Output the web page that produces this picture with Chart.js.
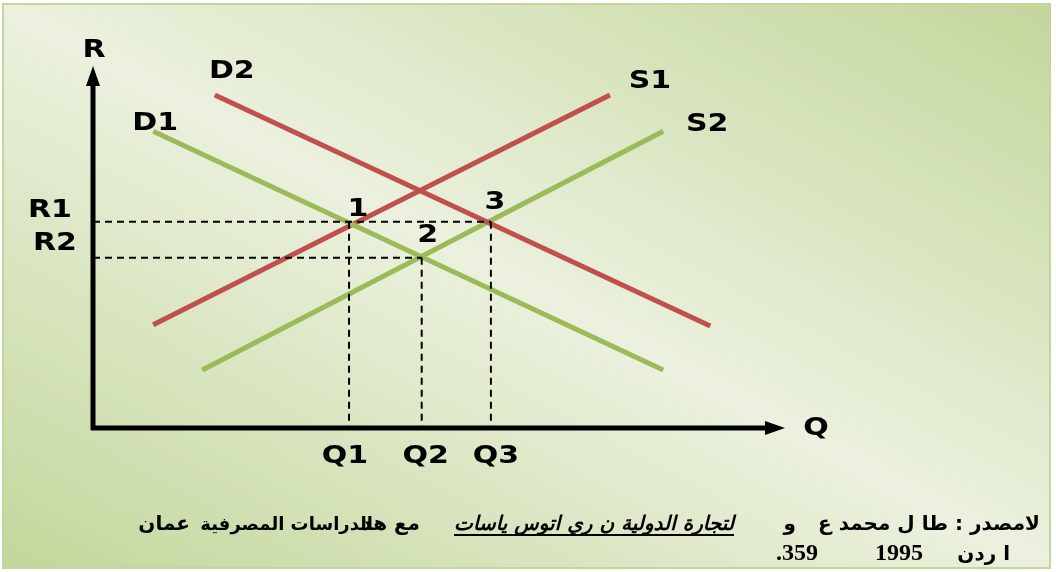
<!DOCTYPE html>
<html>
<head>
<meta charset="utf-8">
<script src="https://cdn.jsdelivr.net/npm/chart.js@4/dist/chart.umd.min.js"></script>
<style>
  html, body { margin: 0; padding: 0; background: #fff; }
  #wrap { width: 1056px; height: 572px; }
</style>
</head>
<body>
<div id="wrap"><canvas id="marketChart" width="1056" height="572"></canvas></div>
<script>
/* Data (axis units 0..100) */
let qLabels = ['Q1', 'Q2', 'Q3'];
let qValues = [37, 47.5, 57.5];
let rLabels = ['R1', 'R2'];
let rValues = [57, 47];

let curveNames = ['D1', 'D2', 'S1', 'S2'];
let d1 = [{ x: 8.7, y: 82 }, { x: 82.4, y: 16 }];
let d2 = [{ x: 17.6, y: 92 }, { x: 89.2, y: 28.2 }];
let s1 = [{ x: 8.7, y: 28.5 }, { x: 74.7, y: 92 }];
let s2 = [{ x: 15.8, y: 16 }, { x: 82.4, y: 82 }];

// equilibrium points: [q index, r index]
let eqLabels = ['1', '2', '3'];
let eqPoints = [[0, 0], [1, 1], [2, 0]];

let red = '#c0504d';
let green = '#9bbb59';
let labelFont = "bold 25px 'DejaVu Sans', sans-serif";

// text a bit wider than the font, like the original picture
function wideText(ctx, text, x, y, sx) {
  ctx.save();
  ctx.translate(x, y);
  ctx.scale(sx, 1);
  ctx.fillText(text, 0, 0);
  ctx.restore();
}

//-----------------------------------------------//
/* Background + frame */
//-----------------------------------------------//
const backgroundPlugin = {
  id: 'background',
  beforeDraw(chart) {
    let ctx = chart.ctx;
    ctx.save();
    ctx.fillStyle = '#ffffff';
    ctx.fillRect(0, 0, chart.width, chart.height);
    // light band along the top-left -> bottom-right diagonal
    let g = ctx.createLinearGradient(291, 723, 761, -151);
    g.addColorStop(0, '#c3d69b');
    g.addColorStop(0.5, '#ebf1de');
    g.addColorStop(1, '#c3d69b');
    ctx.fillStyle = g;
    ctx.fillRect(3, 4, 1047, 564);
    ctx.strokeStyle = '#c3d69b';
    ctx.lineWidth = 2;
    ctx.strokeRect(3, 4, 1047, 564);
    ctx.restore();
  },
};

//-----------------------------------------------//
/* Axes with arrows, labels, source note */
//-----------------------------------------------//
const annotatePlugin = {
  id: 'annotate',
  afterDatasetsDraw(chart) {
    let ctx = chart.ctx;
    let xs = chart.scales.x;
    let ys = chart.scales.y;
    let x0 = xs.getPixelForValue(0);
    let y0 = ys.getPixelForValue(0);
    let xEnd = xs.getPixelForValue(100);
    let yEnd = ys.getPixelForValue(100);

    ctx.save();
    // axes
    ctx.strokeStyle = '#000';
    ctx.fillStyle = '#000';
    ctx.lineWidth = 5;
    ctx.beginPath();
    ctx.moveTo(x0, y0 + 2);
    ctx.lineTo(x0, yEnd + 16);
    ctx.moveTo(x0 - 2, y0);
    ctx.lineTo(xEnd - 16, y0);
    ctx.stroke();
    ctx.beginPath();
    ctx.moveTo(x0, yEnd);
    ctx.lineTo(x0 - 7, yEnd + 20);
    ctx.lineTo(x0 + 7, yEnd + 20);
    ctx.closePath();
    ctx.fill();
    ctx.beginPath();
    ctx.moveTo(xEnd, y0);
    ctx.lineTo(xEnd - 20, y0 - 7);
    ctx.lineTo(xEnd - 20, y0 + 7);
    ctx.closePath();
    ctx.fill();

    let sx = 1.2;
    ctx.font = labelFont;
    ctx.textAlign = 'center';
    ctx.textBaseline = 'middle';
    wideText(ctx, 'R', x0 + 1, yEnd - 16, sx);
    wideText(ctx, 'Q', xEnd + 31, y0, sx);

    // tick labels
    let qOffs = [-4, 4, 5];
    qLabels.forEach((t, i) => {
      wideText(ctx, t, xs.getPixelForValue(qValues[i]) + qOffs[i], y0 + 28, sx);
    });
    rLabels.forEach((t, i) => {
      wideText(ctx, t, x0 - 43 + i * 5, ys.getPixelForValue(rValues[i]) - 11 - i * 3, sx);
    });

    // curve names
    let ends = [d1[0], d2[0], s1[1], s2[1]];
    let offs = [[2, -8], [17, -23], [40, -13], [44, -7]];
    curveNames.forEach((n, i) => {
      wideText(ctx, n, xs.getPixelForValue(ends[i].x) + offs[i][0],
        ys.getPixelForValue(ends[i].y) + offs[i][1], sx);
    });

    // equilibrium numbers
    let eqOffs = [[9, -12], [6, -22], [4, -19]];
    eqLabels.forEach((n, i) => {
      let px = xs.getPixelForValue(qValues[eqPoints[i][0]]);
      let py = ys.getPixelForValue(rValues[eqPoints[i][1]]);
      wideText(ctx, n, px + eqOffs[i][0], py + eqOffs[i][1], sx);
    });

    // source note (RTL)
    ctx.direction = 'rtl';
    ctx.textAlign = 'right';
    ctx.textBaseline = 'alphabetic';
    let arFont = "bold 20px 'DejaVu Sans', sans-serif";
    ctx.font = arFont;
    ctx.fillText('لامصدر : طا ل محمد ع', 1040, 530);
    ctx.fillText('و', 796, 530);
    ctx.font = "italic bold 20px 'DejaVu Sans', sans-serif";
    let itText = 'لتجارة الدولية ن ري اتوس ياسات';
    ctx.fillText(itText, 734, 530);
    let w = ctx.measureText(itText).width;
    ctx.lineWidth = 2;
    ctx.beginPath();
    ctx.moveTo(734, 535);
    ctx.lineTo(734 - w, 535);
    ctx.stroke();
    ctx.font = arFont;
    ctx.fillText('مع هد', 420, 530);
    ctx.font = "bold 18px 'DejaVu Sans', sans-serif";
    ctx.fillText('الدراسات المصرفية', 373, 530);
    ctx.font = arFont;
    ctx.fillText('عمان', 190, 530);
    ctx.fillText('ا ردن', 1010, 560);
    ctx.direction = 'ltr';
    ctx.font = "bold 24px 'Liberation Serif', serif";
    ctx.fillText('1995', 923, 560);
    ctx.fillText('.359', 818, 560);
    ctx.restore();
  },
};

//-----------------------------------------------//
/* Supply / demand chart */
//-----------------------------------------------//
function marketChart() {
  let dash = [7, 5];
  let guides = [];
  // vertical guides from each equilibrium down to Q axis
  eqPoints.forEach((p) => {
    guides.push({
      data: [{ x: qValues[p[0]], y: rValues[p[1]] }, { x: qValues[p[0]], y: 0 }],
      borderColor: '#000', borderWidth: 2, borderDash: dash,
      showLine: true, pointRadius: 0,
    });
  });
  // horizontal guides to R axis
  guides.push({
    data: [{ x: 0, y: rValues[0] }, { x: qValues[2], y: rValues[0] }],
    borderColor: '#000', borderWidth: 2, borderDash: dash,
    showLine: true, pointRadius: 0,
  });
  guides.push({
    data: [{ x: 0, y: rValues[1] }, { x: qValues[1], y: rValues[1] }],
    borderColor: '#000', borderWidth: 2, borderDash: dash,
    showLine: true, pointRadius: 0,
  });

  let curves = [
    { label: 'D1', data: d1, borderColor: green },
    { label: 'D2', data: d2, borderColor: red },
    { label: 'S1', data: s1, borderColor: red },
    { label: 'S2', data: s2, borderColor: green },
  ].map((c) => Object.assign(c, { borderWidth: 5, showLine: true, pointRadius: 0 }));

  let ctx = document.getElementById('marketChart').getContext('2d');
  new Chart(ctx, {
    type: 'scatter',
    data: { datasets: guides.concat(curves) },
    options: {
      responsive: false,
      animation: false,
      layout: { padding: { left: 93, right: 271, top: 66, bottom: 144 } },
      scales: {
        x: { type: 'linear', min: 0, max: 100, display: false },
        y: { type: 'linear', min: 0, max: 100, display: false },
      },
      plugins: {
        legend: { display: false },
        tooltip: { enabled: false },
      },
    },
    plugins: [backgroundPlugin, annotatePlugin],
  });
}

marketChart();
</script>
</body>
</html>
